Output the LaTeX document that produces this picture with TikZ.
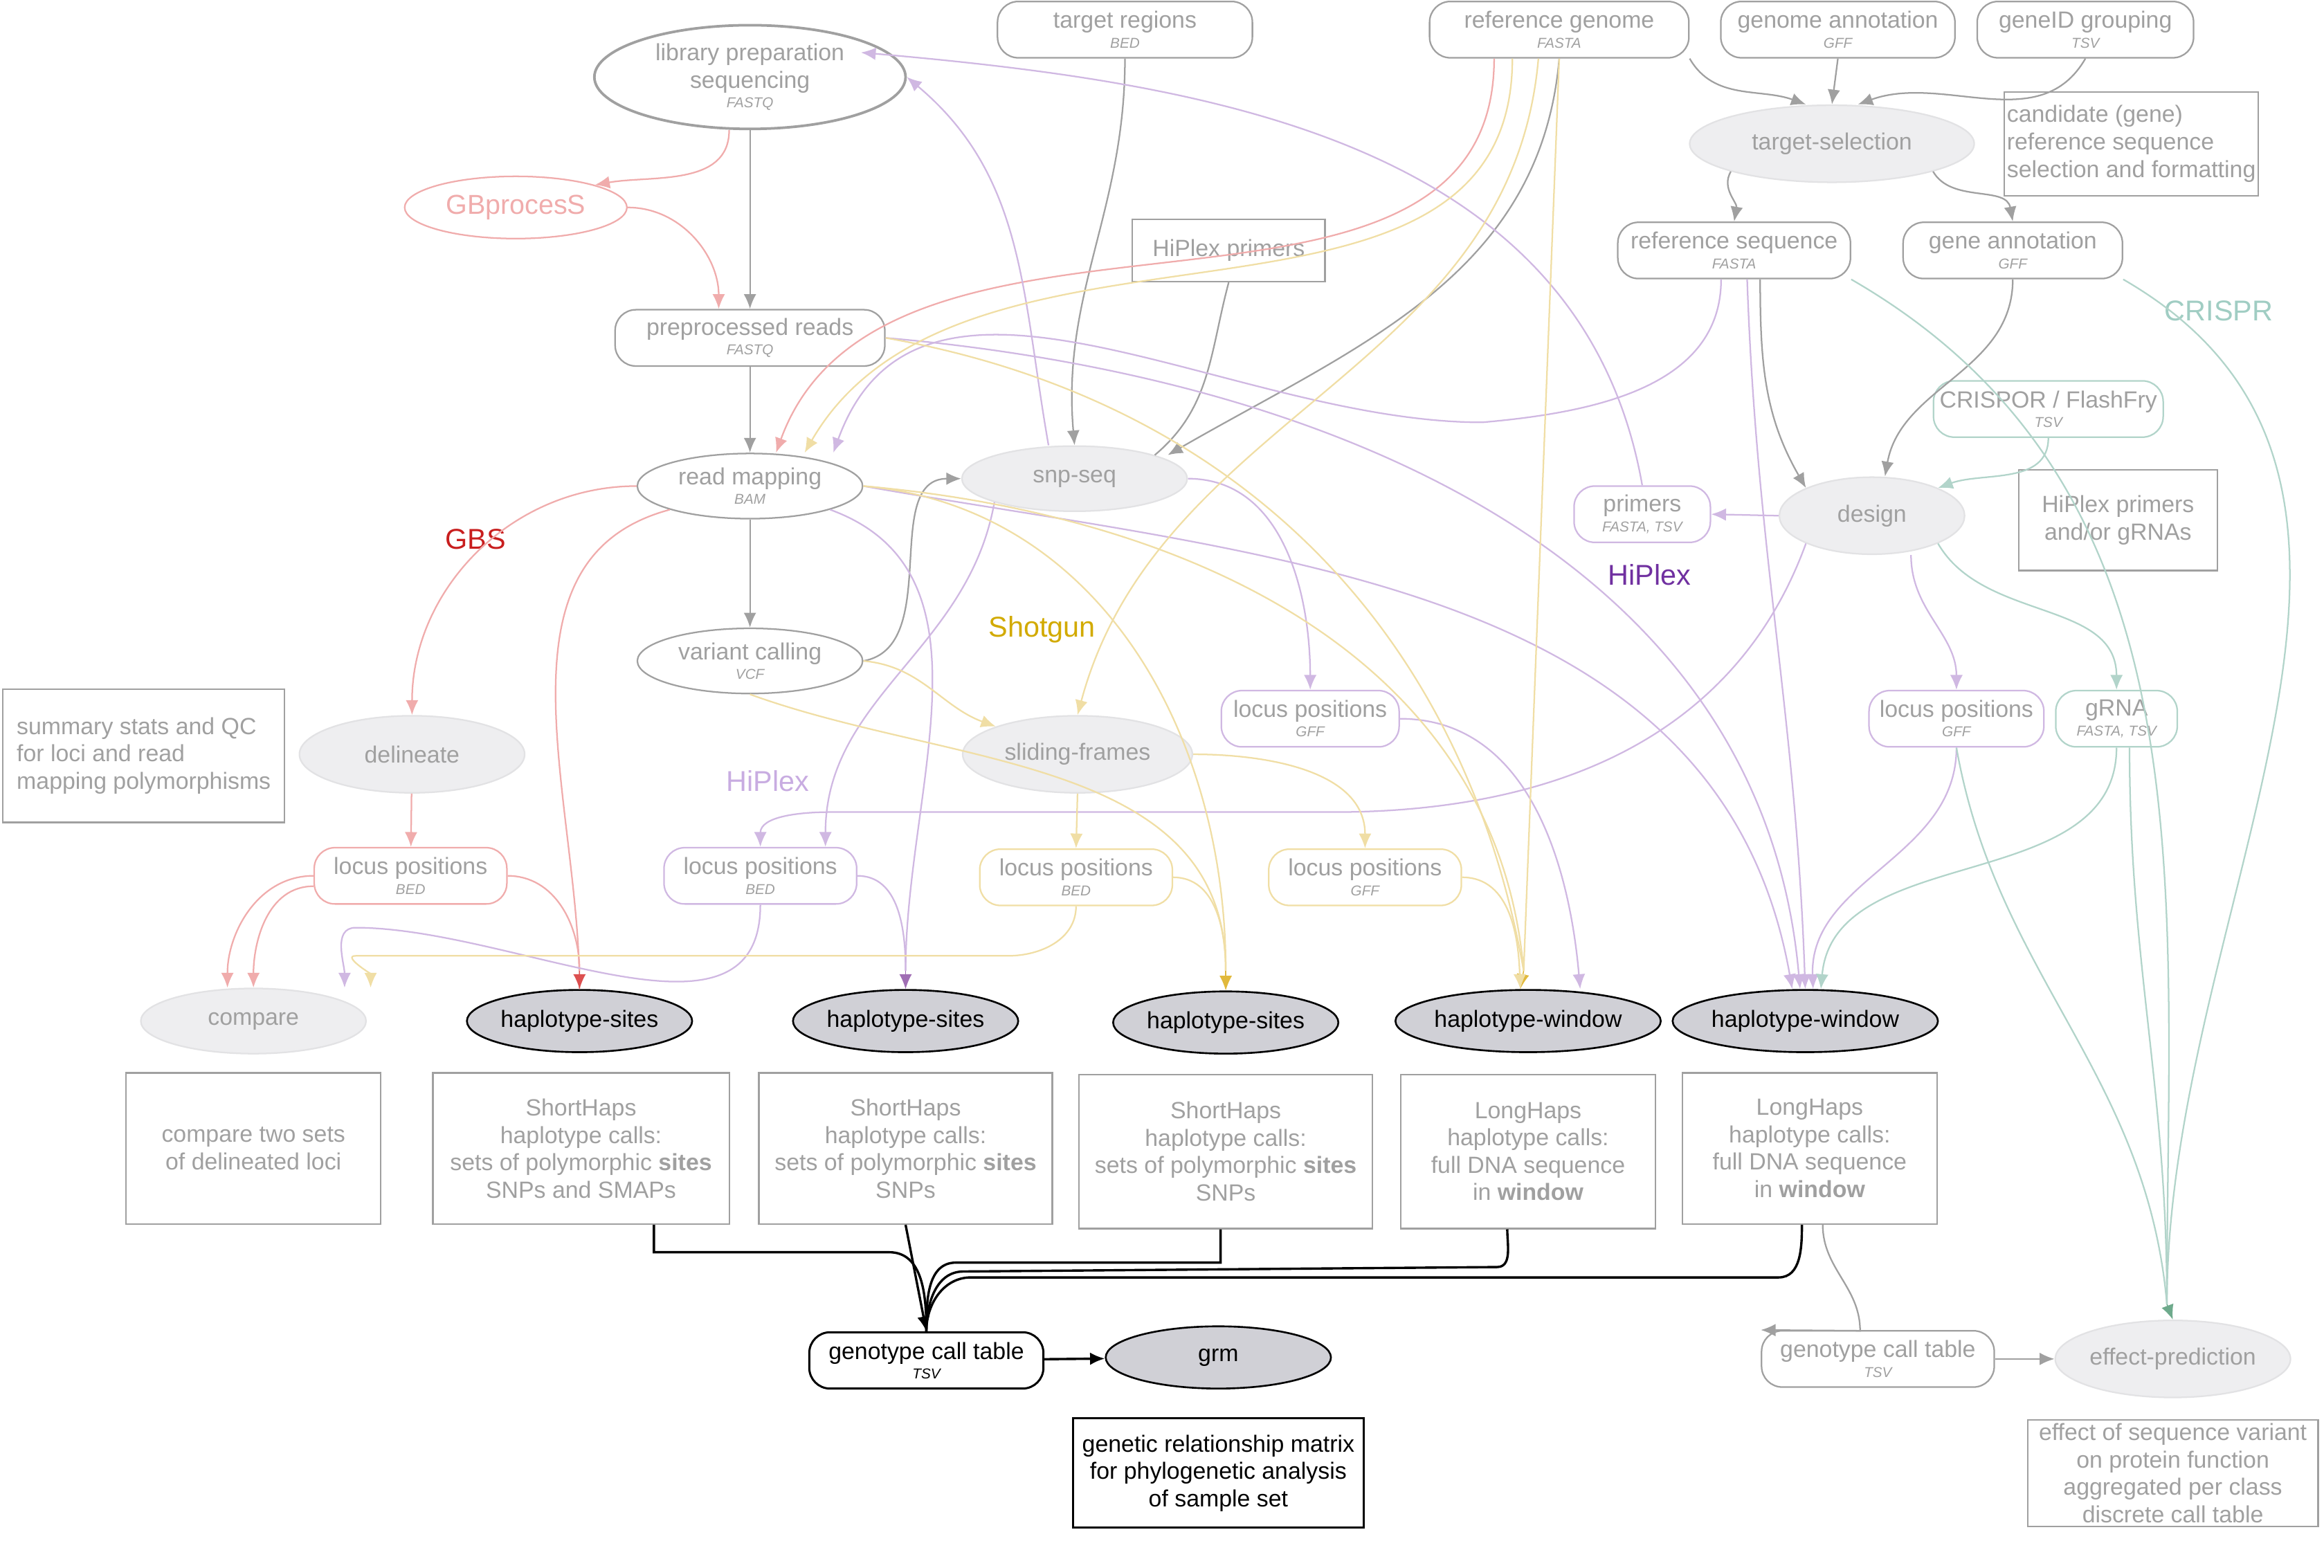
\documentclass[tikz,border=0pt]{standalone}
\usepackage{fontspec}
\setmainfont{Liberation Sans}
\usetikzlibrary{shapes.geometric,arrows.meta}
\definecolor{gry}{RGB}{160,160,160}
\definecolor{lfill}{RGB}{238,238,240}
\definecolor{pk}{RGB}{240,172,172}
\definecolor{pkd}{RGB}{220,80,80}
\definecolor{gbs}{RGB}{200,30,30}
\definecolor{pu}{RGB}{208,184,226}
\definecolor{pud}{RGB}{160,110,180}
\definecolor{hpd}{RGB}{112,48,160}
\definecolor{hpl}{RGB}{200,172,225}
\definecolor{ye}{RGB}{240,222,165}
\definecolor{yed}{RGB}{225,185,60}
\definecolor{sg}{RGB}{210,170,0}
\definecolor{gr}{RGB}{178,212,202}
\definecolor{grd}{RGB}{110,170,140}
\definecolor{cr}{RGB}{160,205,195}
\definecolor{bfill}{RGB}{208,208,214}
\newcommand{\sub}[1]{\\[-3pt]{\fontsize{5.5}{6}\selectfont\itshape #1}}
\begin{document}
\begin{tikzpicture}[x=0.02cm,y=-0.02cm,
 every node/.style={font=\fontsize{9}{10.5}\selectfont,inner sep=1pt,align=center},
 rr/.style={draw=gry,text=gry,rounded corners=2.8mm,minimum height=0.76cm,line width=0.6pt},
 el/.style={ellipse,draw=gry,text=gry,line width=0.6pt,inner sep=0pt},
 fe/.style={el,fill=lfill,draw=lfill!85!gry},
 be/.style={ellipse,draw=black,fill=bfill,text=black,minimum width=3.04cm,minimum height=0.84cm,inner sep=0pt,line width=0.7pt},
 bx/.style={draw=gry,text=gry,line width=0.6pt},
 ar/.style={-{Latex[length=2mm,width=1.7mm]}},
 eg/.style={draw=gry,line width=0.6pt},
 ep/.style={draw=pk,line width=0.6pt},
 eu/.style={draw=pu,line width=0.6pt},
 ey/.style={draw=ye,line width=0.6pt},
 ec/.style={draw=gr,line width=0.6pt},
]
\useasboundingbox (0,0) rectangle (1568,1058);
% top nodes
\node[rr,minimum width=3.44cm] (tr) at (759,20) {target regions\sub{BED}};
\node[rr,minimum width=3.5cm] (rg) at (1052,20) {reference genome\sub{FASTA}};
\node[rr,minimum width=3.16cm] (ga) at (1240,20) {genome annotation\sub{GFF}};
\node[rr,minimum width=2.92cm] (gid) at (1407,20) {geneID grouping\sub{TSV}};
\node[el,minimum width=4.2cm,minimum height=1.4cm,line width=1pt] (lib) at (506,52) {library preparation\\sequencing\sub{FASTQ}};
\node[el,draw=pk,text=pk,minimum width=3cm,minimum height=0.84cm,font=\fontsize{10.5}{12}\selectfont] (gbp) at (348,140) {GBprocesS};
\node[rr,minimum width=3.64cm] (pre) at (506,228) {preprocessed reads\sub{FASTQ}};
\node[bx,minimum width=2.6cm,minimum height=0.84cm] (hpp) at (829,169) {HiPlex primers};
\node[fe,minimum width=3.84cm,minimum height=1.04cm] (ts) at (1236,97) {target-selection};
\node[bx,minimum width=3.26cm,minimum height=1.4cm,align=left] (cand) at (1438,97) {candidate (gene)\\reference sequence\\selection and formatting};
\node[rr,minimum width=3.14cm] (rs) at (1170,169) {reference sequence\sub{FASTA}};
\node[rr,minimum width=2.96cm] (gan) at (1358,169) {gene annotation\sub{GFF}};
\node[text=cr,font=\fontsize{11}{12}\selectfont] (crl) at (1497,210) {CRISPR};
\node[rr,draw=gr,minimum width=3.1cm] (crisp) at (1382,276) {CRISPOR / FlashFry\sub{TSV}};
\node[el,minimum width=3.04cm,minimum height=0.88cm] (rm) at (506,328) {read mapping\sub{BAM}};
\node[fe,minimum width=3.04cm,minimum height=0.88cm] (snp) at (725,323) {snp-seq};
\node[rr,draw=pu,minimum width=1.84cm] (prim) at (1108,347) {primers\sub{FASTA, TSV}};
\node[fe,minimum width=2.5cm,minimum height=1.04cm] (des) at (1263,348) {design};
\node[bx,minimum width=2.68cm,minimum height=1.36cm] (hpg) at (1429,351) {HiPlex primers\\and/or gRNAs};
\node[text=gbs,font=\fontsize{11}{12}\selectfont] (gbsl) at (321,364) {GBS};
\node[text=hpd,font=\fontsize{11}{12}\selectfont] (hpl1) at (1113,388) {HiPlex};
\node[el,minimum width=3.04cm,minimum height=0.88cm] (vc) at (506,446) {variant calling\sub{VCF}};
\node[text=sg,font=\fontsize{11}{12}\selectfont] (sgl) at (703,425) {Shotgun};
\node[rr,draw=pu,minimum width=2.4cm] (lgp) at (884,485) {locus positions\sub{GFF}};
\node[rr,draw=pu,minimum width=2.36cm] (lgp2) at (1320,485) {locus positions\sub{GFF}};
\node[rr,draw=gr,minimum width=1.64cm] (grna) at (1428,485) {gRNA\sub{FASTA, TSV}};
\node[bx,minimum width=3.8cm,minimum height=1.8cm,align=left] (sum) at (97,510) {summary stats and QC\\for loci and read\\mapping polymorphisms};
\node[fe,minimum width=3.04cm,minimum height=1.04cm] (del) at (278,509) {delineate};
\node[fe,minimum width=3.1cm,minimum height=1.04cm] (sf) at (727,509) {sliding-frames};
\node[text=hpl,font=\fontsize{11}{12}\selectfont] (hpl2) at (518,527) {HiPlex};
\node[rr,draw=pk,minimum width=2.6cm] (lbk) at (277,591) {locus positions\sub{BED}};
\node[rr,draw=pu,minimum width=2.6cm] (lbp) at (513,591) {locus positions\sub{BED}};
\node[rr,draw=ye,minimum width=2.6cm] (lby) at (726,592) {locus positions\sub{BED}};
\node[rr,draw=ye,minimum width=2.6cm] (lgy) at (921,592) {locus positions\sub{GFF}};
\node[fe,minimum width=3.04cm,minimum height=0.88cm] (cmp) at (171,689) {compare};
\node[be] (hs1) at (391,689) {haplotype-sites};
\node[be] (hs2) at (611,689) {haplotype-sites};
\node[be] (hs3) at (827,690) {haplotype-sites};
\node[be,minimum width=3.24cm] (hw1) at (1031,689) {haplotype-window};
\node[be,minimum width=3.04cm] (hw2) at (1218,689) {haplotype-window};
\node[bx,minimum width=3.44cm,minimum height=2.04cm] (b1) at (171,775) {compare two sets\\of delineated loci};
\node[bx,minimum width=4cm,minimum height=2.04cm] (b2) at (392,775) {ShortHaps\\haplotype calls:\\sets of polymorphic \textbf{sites}\\SNPs and SMAPs};
\node[bx,minimum width=3.96cm,minimum height=2.04cm] (b3) at (611,775) {ShortHaps\\haplotype calls:\\sets of polymorphic \textbf{sites}\\SNPs};
\node[bx,minimum width=3.96cm,minimum height=2.08cm] (b4) at (827,777) {ShortHaps\\haplotype calls:\\sets of polymorphic \textbf{sites}\\SNPs};
\node[bx,minimum width=3.44cm,minimum height=2.08cm] (b5) at (1031,777) {LongHaps\\haplotype calls:\\full DNA sequence\\in \textbf{window}};
\node[bx,minimum width=3.44cm,minimum height=2.04cm] (b6) at (1221,775) {LongHaps\\haplotype calls:\\full DNA sequence\\in \textbf{window}};
\node[rr,draw=black,text=black,minimum width=3.16cm,line width=0.8pt] (gct) at (625,918) {genotype call table\sub{TSV}};
\node[be] (grm) at (822,916) {grm};
\node[draw=black,minimum width=3.92cm,minimum height=1.48cm,line width=0.8pt] (gmat) at (822,994) {genetic relationship matrix\\for phylogenetic analysis\\of sample set};
\node[rr,minimum width=3.14cm] (gct2) at (1267,917) {genotype call table\sub{TSV}};
\node[fe,minimum width=3.04cm,minimum height=1.04cm] (eff) at (1466,917) {effect-prediction};
\node[bx,minimum width=3.92cm,minimum height=1.44cm] (efft) at (1466,994) {effect of sequence variant\\on protein function\\aggregated per class\\discrete call table};
% ---- grey edges
\draw[eg,ar] (lib) -- (pre);
\draw[eg,ar] (pre) -- (rm);
\draw[eg,ar] (rm) -- (vc);
\draw[eg,ar] (vc.east) to[out=10,in=180] (snp.west);
\draw[eg,ar] (tr.south) to[out=-90,in=95] (snp.north);
\draw[eg] (hpp.south) to[out=-105,in=40] (snp.north east);
\draw[eg,ar] (rg.south east) to[out=-60,in=160] ([xshift=-10]ts.north);
\draw[eg,ar] (ga.south) -- (ts.north);
\draw[eg,ar] (gid.south) to[out=-120,in=20] ([xshift=10]ts.north);
\draw[eg,ar] (ts.south west) to[out=-120,in=80] (rs.north);
\draw[eg,ar] (ts.south east) to[out=-60,in=100] (gan.north);
\draw[eg,ar] (rg.south) to[out=-95,in=30] ([xshift=5]snp.north east);
\draw[eg,ar] ([xshift=10]rs.south) to[out=-90,in=120] (des.north west);
\draw[eg,ar] (gan.south) to[out=-90,in=80] ([xshift=5]des.north);
\draw[eg,ar] (gct2) -- (eff);
\draw[eg,ar] ([xshift=5]b6.south) to[out=-90,in=90] (1255,898) -- (gct2.north west);
% ---- pink
\draw[ep,ar] ([xshift=-8]lib.south) to[out=-90,in=10] (gbp.north east);
\draw[ep,ar] (gbp.east) to[out=0,in=90] ([xshift=-12]pre.north);
\draw[ep,ar] ([xshift=-25]rg.south) to[out=-90,in=70] ([xshift=10]rm.north);
\draw[ep,ar] (rm.west) to[out=180,in=90] (del.north);
\draw[ep] (rm.south west) to[out=-165,in=90] (hs1.north);
\draw[draw=pkd,ar] (391,655) -- (hs1.north);
\draw[ep,ar] (del) -- (lbk);
\draw[ep,ar] (lbk.west) to[out=180,in=90] ([xshift=-10]cmp.north);
\draw[ep,ar] ([yshift=-4]lbk.west) to[out=180,in=90] (cmp.north);
\draw[ep] (lbk.east) to[out=0,in=90] (391,655);
% ---- purple
\draw[eu,ar] ([xshift=-10]snp.north) to[out=100,in=-40] (lib.east);
\draw[eu,ar] (prim.north) to[out=100,in=-5] ([yshift=-5]lib.north east);
\draw[eu,ar] ([xshift=-5]rs.south) to[out=-90,in=5] (1000,285) to[out=180,in=70] ([xshift=32]rm.north);
\draw[eu,ar] (pre.east) to[out=-5,in=95] ([xshift=-2]hw2.north);
\draw[eu] (rm.south east) to[out=-20,in=90] (611,655);
\draw[draw=pud,ar] (611,655) -- (hs2.north);
\draw[eu,ar] (rm.east) to[out=-10,in=100] ([xshift=-5]hw2.north);
\draw[eu,ar] (snp.south west) to[out=-100,in=90] ([xshift=25]lbp.north);
\draw[eu,ar] (snp.east) to[out=0,in=90] (lgp.north);
\draw[eu,ar] (lgp.east) to[out=0,in=95] ([xshift=20]hw1.north);
\draw[eu,ar] ([xshift=5]rs.south) to[out=-88,in=92] (hw2.north);
\draw[eu,ar] (des.south west) to[out=-110,in=0] (900,548) -- (560,548) to[out=180,in=90] (lbp.north);
\draw[eu,ar] ([xshift=15]des.south) to[out=-90,in=90] (lgp2.north);
\draw[eu,ar] (lgp2.south) to[out=-90,in=92] ([xshift=3]hw2.north);
\draw[eu] (lbp.east) to[out=0,in=90] (611,655);
\draw[eu,ar] (lbp.south) to[out=-90,in=0] (240,626) to[out=180,in=90] ([xshift=35]cmp.north);
\draw[eu,ar] (des.west) -- (prim.east);
% ---- yellow
\draw[ey,ar] ([xshift=-18]rg.south) to[out=-90,in=60] ([xshift=21]rm.north);
\draw[ey,ar] ([xshift=-8]rg.south) to[out=-95,in=75] (sf.north);
\draw[ey] (rg.south) -- (1028,655);
\draw[draw=yed,ar] (1028,655) -- ([xshift=-3]hw1.north);
\draw[ey,ar] (vc.east) to[out=-5,in=160] (sf.north west);
\draw[ey,ar] (sf.south) -- (lby.north);
\draw[ey,ar] (sf.east) to[out=0,in=90] (lgy.north);
\draw[ey] (lby.east) to[out=0,in=90] (827,655);
\draw[draw=yed,ar] (827,655) -- (hs3.north);
\draw[ey,ar] (lby.south) to[out=-90,in=0] (680,645) -- (240,645) to[out=180,in=90] ([xshift=45]cmp.north);
\draw[ey,ar] (lgy.east) to[out=0,in=92] ([xshift=-3]hw1.north);
\draw[ey] (rm.east) to[out=-5,in=90] (827,655);
\draw[ey] (rm.east) to[out=-5,in=95] (1028,655);
\draw[ey] (vc.south) to[out=-20,in=90] (827,655);
\draw[ey] (pre.east) to[out=-10,in=100] (1028,655);
% ---- green
\draw[ec] (rs.south east) to[out=-30,in=90] (1462,880);
\draw[ec] (gan.south east) to[out=-30,in=90] (1462,880);
\draw[draw=grd,ar] (1462,880) -- (eff.north);
\draw[ec,ar] (crisp.south) to[out=-90,in=20] (des.north east);
\draw[ec,ar] (des.south east) to[out=-60,in=90] (grna.north);
\draw[ec,ar] (grna.south) to[out=-90,in=85] ([xshift=6]hw2.north);
\draw[ec] ([xshift=5]grna.south) to[out=-90,in=90] (1462,880);
\draw[ec] (lgp2.south) to[out=-80,in=95] (1462,880);
% ---- black
\begin{scope}[line width=0.9pt]
\draw ([xshift=28]b2.south) |- (600,845) to[out=0,in=90] (gct.north);
\draw[ar] (b3.south) -- (gct.north);
\draw ([xshift=-2]b4.south) |- (645,852) to[out=180,in=90] (gct.north);
\draw ([xshift=-8]b5.south) to[out=-90,in=0] (1010,855) -- (650,858) to[out=180,in=90] (gct.north);
\draw ([xshift=-3]b6.south) to[out=-90,in=0] (1200,862) -- (655,862) to[out=180,in=90] (gct.north);
\draw[ar] (gct) -- (grm);
\end{scope}
\end{tikzpicture}
\end{document}
